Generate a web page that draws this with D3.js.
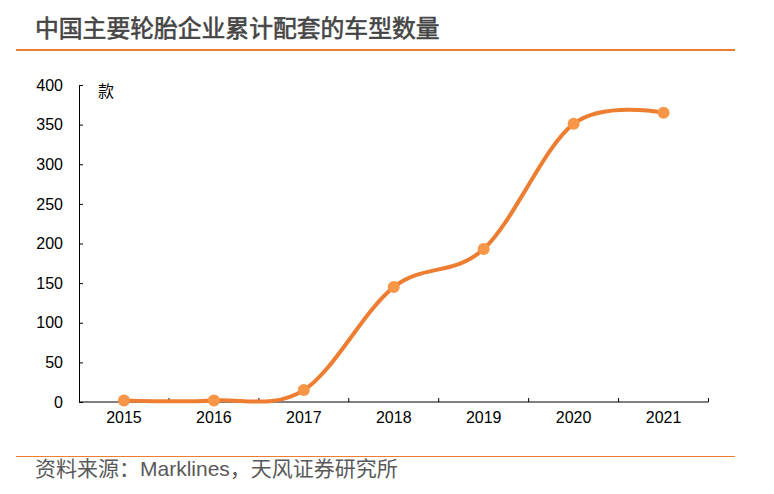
<!DOCTYPE html>
<html>
<head>
<meta charset="utf-8">
<script src="https://cdn.jsdelivr.net/npm/d3@7"></script>
<style>
  body { margin: 0; background: #fff; }
  text { font-family: "Liberation Sans", Arial, sans-serif; }
  .cjk { font-family: "Liberation Sans", "Noto Sans CJK SC", sans-serif; }
</style>
</head>
<body>
<div id="chart"></div>
<script>
// data
const years = ["2015", "2016", "2017", "2018", "2019", "2020", "2021"];
const models = [2, 2, 15, 145, 193, 351, 365];
const yTicks = [0, 50, 100, 150, 200, 250, 300, 350, 400];

const width = 774;
const height = 494;
const plot = { left: 79, right: 708.5, top: 85, bottom: 402 };

const svg = d3.select("#chart").append("svg")
  .attr("width", width)
  .attr("height", height);

// title + rules
svg.append("text")
  .attr("class", "cjk")
  .attr("x", 35).attr("y", 37)
  .style("font-size", "23.8px")
  .style("fill", "#454545")
  .style("stroke", "#454545")
  .style("stroke-width", 0.6)
  .text("中国主要轮胎企业累计配套的车型数量");

svg.append("line")
  .attr("x1", 16).attr("x2", 735).attr("y1", 50).attr("y2", 50)
  .style("stroke", "#ED7D31").style("stroke-width", 2);

svg.append("line")
  .attr("x1", 16).attr("x2", 735).attr("y1", 456.5).attr("y2", 456.5)
  .style("stroke", "#ED7D31").style("stroke-width", 1);

svg.append("text")
  .attr("class", "cjk")
  .attr("x", 35).attr("y", 476)
  .style("font-size", "21px")
  .style("fill", "#595959")
  .text("资料来源：Marklines，天风证券研究所");

//----------------------------SCALES-----------------------------//
const xScale = d3.scaleBand().domain(years).range([plot.left, plot.right]);
const yScale = d3.scaleLinear().domain([0, 400]).range([plot.bottom, plot.top]);

//-----------------------------AXES------------------------------//
const yaxis = d3.axisLeft(yScale).tickValues(yTicks).tickSizeInner(-4).tickSizeOuter(0).tickPadding(16);
const gy = svg.append("g")
  .attr("transform", "translate(" + plot.left + ",0)")
  .call(yaxis);
gy.selectAll("text").style("font-size", "16px").style("fill", "#000");
gy.selectAll("line,path").style("stroke", "#000");

const gx = svg.append("g")
  .attr("transform", "translate(0," + plot.bottom + ")")
  .call(d3.axisBottom(xScale).tickSize(0).tickPadding(10));
gx.select(".domain").remove();
gx.append("line")
  .attr("x1", plot.left).attr("x2", plot.right)
  .style("stroke", "#000");
gx.selectAll(".tick text").style("font-size", "16px").style("fill", "#000");

// category boundary ticks (pointing up)
const bounds = years.map(function (d) { return xScale(d); }).concat([xScale.range()[1]]);
gx.selectAll(".bound")
  .data(bounds.slice(1))
  .enter().append("line")
  .attr("x1", function (d) { return d; })
  .attr("x2", function (d) { return d; })
  .attr("y1", 0).attr("y2", -4)
  .style("stroke", "#000");

// unit label
svg.append("text")
  .attr("class", "cjk")
  .attr("x", 98).attr("y", 97)
  .style("font-size", "16px")
  .style("fill", "#000")
  .text("款");

//----------------------------LINES------------------------------//
const cx = function (d, i) { return xScale(years[i]) + xScale.bandwidth() / 2; };

const line = d3.line()
  .x(cx)
  .y(function (d) { return yScale(d); })
  .curve(d3.curveCardinal.tension(0));

svg.append("path")
  .datum(models)
  .attr("d", line)
  .style("fill", "none")
  .style("stroke", "#ED7D31")
  .style("stroke-width", 4);

svg.selectAll(".dot")
  .data(models)
  .enter().append("circle")
  .attr("cx", cx)
  .attr("cy", function (d) { return yScale(d); })
  .attr("r", 6)
  .style("fill", "#F79646");
</script>
</body>
</html>
